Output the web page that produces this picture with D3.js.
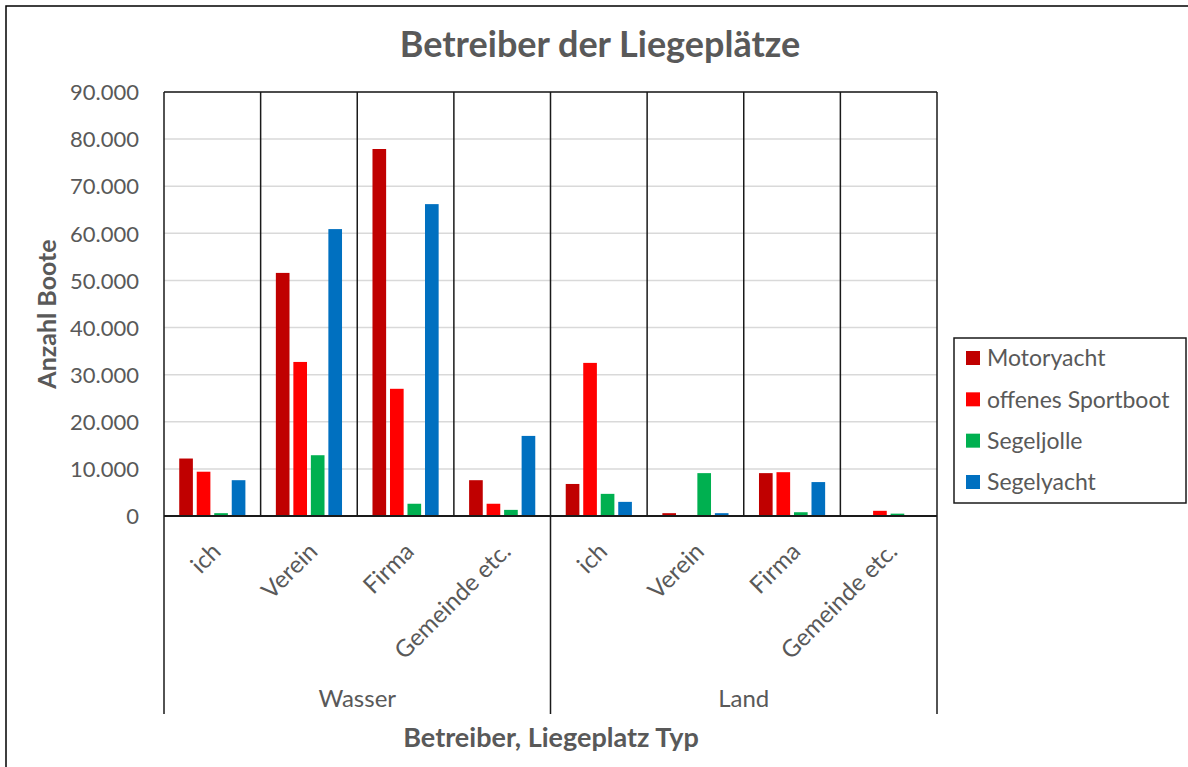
<!DOCTYPE html>
<html><head><meta charset="utf-8">
<script src="https://cdn.jsdelivr.net/npm/d3@7"></script>
<style>body{margin:0;background:#fff}svg{display:block}text{font-family:Lato,"Open Sans",sans-serif}</style>
</head><body><svg id="c" width="1188" height="767"></svg>
<script>
const groups = ["Wasser", "Land"];
const categories = ["ich", "Verein", "Firma", "Gemeinde etc."];
const seriesNames = ["Motoryacht", "offenes Sportboot", "Segeljolle", "Segelyacht"];
const colors = ["#c00000", "#ff0000", "#00b050", "#0070c0"];
// values per series, ordered Wasser: ich, Verein, Firma, Gemeinde | Land: ich, Verein, Firma, Gemeinde
const motoryacht = [12200, 51600, 77900, 7600, 6800, 600, 9100, 0];
const sportboot  = [9400, 32700, 27000, 2600, 32500, 0, 9300, 1100];
const segeljolle = [600, 12900, 2600, 1300, 4700, 9100, 800, 500];
const segelyacht = [7600, 60900, 66200, 17000, 3000, 600, 7200, 0];
const yTicks = [0, 10000, 20000, 30000, 40000, 50000, 60000, 70000, 80000, 90000];

const series = [motoryacht, sportboot, segeljolle, segelyacht];
const keys = [];
groups.forEach(g => categories.forEach(c => keys.push(g + "|" + c)));

const svg = d3.select("#c");
const L = 164, R = 937, T = 92, B = 516, LB = 714;
const gray = "#595959";

svg.append("rect").attr("x", 6).attr("y", 6).attr("width", 1200).attr("height", 800)
  .attr("fill", "none").attr("stroke", "#000").attr("stroke-width", 1.5);

const x = d3.scaleBand().domain(keys).range([L, R]).padding(0);
const xs = d3.scaleBand().domain(d3.range(4)).range([0, x.bandwidth()]).paddingInner(0.22).paddingOuter(0.87);
const y = d3.scaleLinear().domain([0, 90000]).range([B, T]);

// gridlines
svg.append("g").selectAll("line").data(yTicks.slice(1)).join("line")
  .attr("x1", L).attr("x2", R).attr("y1", d => y(d)).attr("y2", d => y(d))
  .attr("stroke", "#d9d9d9").attr("stroke-width", 1.5);

// y axis labels
const fmt = d3.formatLocale({decimal: ",", thousands: ".", grouping: [3]}).format(",.0f");
const yAxis = d3.axisLeft(y).tickValues(yTicks).tickFormat(d => d === 0 ? "0" : fmt(d)).tickSize(0).tickPadding(25);
const ya = svg.append("g").attr("transform", `translate(${L},0)`).call(yAxis);
ya.select(".domain").remove();
ya.selectAll("text").attr("fill", gray).attr("font-size", 22).attr("dy", "0.35em")
  .style("font-family", "Lato, 'Open Sans', sans-serif");

// bars
series.forEach((vals, si) => {
  svg.append("g").selectAll("rect").data(vals.map((v, i) => ({k: keys[i], v}))).join("rect")
    .attr("x", d => x(d.k) + xs(si)).attr("width", xs.bandwidth())
    .attr("y", d => y(d.v)).attr("height", d => B - y(d.v))
    .attr("fill", colors[si]);
});

// frame lines
const fr = svg.append("g").attr("stroke", "#1a1a1a").attr("stroke-width", 1.5);
fr.append("line").attr("x1", L).attr("x2", R).attr("y1", T).attr("y2", T);
keys.forEach((k, i) => {
  if (i > 0 && i !== 4) fr.append("line").attr("x1", x(k)).attr("x2", x(k)).attr("y1", T).attr("y2", B);
});
[L, x(keys[4]), R].forEach(xx => fr.append("line").attr("x1", xx).attr("x2", xx).attr("y1", T).attr("y2", LB));
fr.append("line").attr("x1", L).attr("x2", R).attr("y1", B).attr("y2", B).attr("stroke-width", 2.2);

// category labels
svg.append("g").selectAll("text").data(keys).join("text")
  .attr("transform", d => `translate(${x(d) + x.bandwidth() / 2 + 10},${553}) rotate(-45)`)
  .attr("text-anchor", "end").attr("font-size", 24).attr("fill", gray)
  .text(d => d.split("|")[1]);

// group labels
svg.append("g").selectAll("text").data(groups).join("text")
  .attr("x", (g, i) => (x(keys[i * 4]) + x(keys[i * 4 + 3]) + x.bandwidth()) / 2)
  .attr("y", 707).attr("text-anchor", "middle").attr("font-size", 24).attr("fill", gray)
  .text(d => d);

// titles
svg.append("text").attr("x", 600).attr("y", 57).attr("text-anchor", "middle")
  .attr("font-size", 36).attr("font-weight", "bold").attr("fill", gray).text("Betreiber der Liegeplätze");
svg.append("text").attr("x", 551).attr("y", 747).attr("text-anchor", "middle")
  .attr("font-size", 27).attr("font-weight", "bold").attr("fill", gray).text("Betreiber, Liegeplatz Typ");
svg.append("text").attr("transform", "translate(56,314) rotate(-90)").attr("text-anchor", "middle")
  .attr("font-size", 25).attr("font-weight", "bold").attr("fill", gray).text("Anzahl Boote");

// legend
const lg = svg.append("g");
lg.append("rect").attr("x", 954).attr("y", 338).attr("width", 232).attr("height", 165)
  .attr("fill", "#fff").attr("stroke", "#1a1a1a").attr("stroke-width", 1.5);
const ly = d3.scalePoint().domain(seriesNames).range([358, 482]);
seriesNames.forEach((s, i) => {
  lg.append("rect").attr("x", 966).attr("y", ly(s) - 7).attr("width", 14).attr("height", 14).attr("fill", colors[i]);
  lg.append("text").attr("x", 987).attr("y", ly(s)).attr("dy", "0.36em").attr("font-size", 23)
    .attr("fill", gray).text(s);
});
</script></body></html>
